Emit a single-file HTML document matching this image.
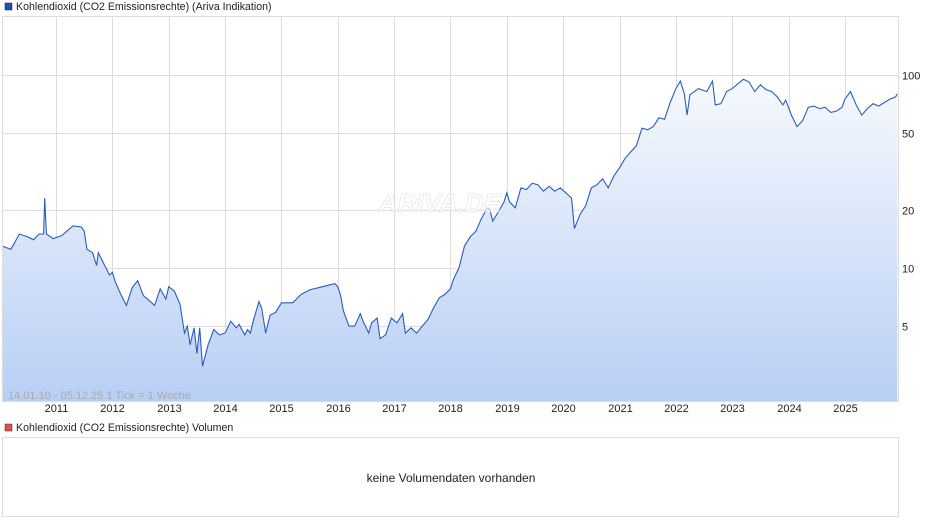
<!DOCTYPE html>
<html><head><meta charset="utf-8"><style>
body{margin:0;background:#fff;font-family:"Liberation Sans",sans-serif;}
svg text{font-family:"Liberation Sans",sans-serif;}
</style></head><body>
<svg id="c" width="940" height="526">
<defs><linearGradient id="g" x1="0" y1="0" x2="0" y2="1"><stop offset="0" stop-color="#f6f9fe"/><stop offset="0.2" stop-color="#eaf1fc"/><stop offset="1" stop-color="#b8cff5"/></linearGradient></defs>
<rect x="5" y="3" width="7" height="7" fill="#1f4fb5" stroke="#123" stroke-width="0.5"/>
<text x="16" y="10" font-size="10.6" fill="#222">Kohlendioxid (CO2 Emissionsrechte) (Ariva Indikation)</text>
<g id="grid"></g>
<path id="area" fill="url(#g)"/>
<path id="line" fill="none" stroke="#2a5cc0" stroke-width="1.1"/>
<rect x="2.5" y="16.5" width="896" height="385" fill="none" stroke="#ddd"/>
<text x="440" y="212" font-size="26" font-style="italic" font-weight="bold" fill="#fff" stroke="#ddd" stroke-width="0.8" opacity="0.7" text-anchor="middle">ARIVA.DE</text>
<text x="8" y="399" font-size="11" fill="#aaa">14.01.10 - 05.12.25   1 Tick = 1 Woche</text>
<g id="ax"></g>
<rect x="5" y="424" width="7" height="7" fill="#d9534f" stroke="#522" stroke-width="0.5"/>
<text x="16" y="431" font-size="10.6" fill="#222">Kohlendioxid (CO2 Emissionsrechte) Volumen</text>
<rect x="2.5" y="437.5" width="896" height="79" fill="#fff" stroke="#ddd"/>
<text x="451" y="482" font-size="12" fill="#222" text-anchor="middle">keine Volumendaten vorhanden</text>
</svg>
<script>
const years=[2011,2012,2013,2014,2015,2016,2017,2018,2019,2020,2021,2022,2023,2024,2025];
const yTicks=[5,10,20,50,100];
const dates=[2010.04,2010.2,2010.35,2010.5,2010.6,2010.7,2010.78,2010.8,2010.83,2010.95,2011.1,2011.3,2011.45,2011.5,2011.55,2011.65,2011.72,2011.75,2011.85,2011.95,2012.0,2012.05,2012.15,2012.25,2012.35,2012.45,2012.55,2012.65,2012.75,2012.85,2012.95,2013.0,2013.1,2013.2,2013.28,2013.33,2013.38,2013.45,2013.5,2013.55,2013.6,2013.7,2013.8,2013.9,2014.0,2014.1,2014.2,2014.25,2014.35,2014.4,2014.45,2014.5,2014.6,2014.65,2014.72,2014.8,2014.9,2015.0,2015.2,2015.35,2015.5,2015.65,2015.8,2015.95,2016.0,2016.05,2016.1,2016.2,2016.3,2016.4,2016.45,2016.55,2016.6,2016.7,2016.75,2016.85,2016.95,2017.05,2017.15,2017.2,2017.3,2017.4,2017.5,2017.6,2017.7,2017.8,2017.9,2018.0,2018.05,2018.15,2018.25,2018.35,2018.45,2018.55,2018.65,2018.7,2018.75,2018.85,2018.95,2019.0,2019.05,2019.15,2019.25,2019.35,2019.45,2019.55,2019.65,2019.75,2019.85,2019.95,2020.05,2020.15,2020.2,2020.3,2020.4,2020.5,2020.6,2020.7,2020.8,2020.9,2021.0,2021.1,2021.2,2021.3,2021.4,2021.5,2021.6,2021.7,2021.8,2021.9,2022.0,2022.08,2022.15,2022.2,2022.25,2022.4,2022.55,2022.65,2022.7,2022.8,2022.9,2023.0,2023.1,2023.2,2023.3,2023.4,2023.5,2023.6,2023.7,2023.8,2023.9,2023.95,2024.05,2024.15,2024.25,2024.35,2024.45,2024.55,2024.65,2024.75,2024.85,2024.95,2025.0,2025.1,2025.2,2025.3,2025.4,2025.5,2025.6,2025.7,2025.8,2025.9,2025.93];
const prices=[13,12.5,15,14.5,14,15,15,23,15,14.2,14.7,16.5,16.3,15.5,12.5,12,10.3,12,10.5,9.2,9.5,8.5,7.3,6.4,7.9,8.6,7.2,6.8,6.4,7.8,6.9,8.0,7.6,6.5,4.6,5.0,4.0,4.9,3.6,4.9,3.1,4.0,4.8,4.5,4.6,5.3,4.9,5.1,4.5,4.8,4.6,5.3,6.7,6.2,4.6,5.7,5.9,6.6,6.6,7.3,7.7,7.9,8.1,8.3,8.0,7.2,6.0,5.0,5.0,5.8,5.3,4.6,5.2,5.5,4.3,4.5,5.5,5.2,5.8,4.6,4.9,4.6,5.0,5.4,6.2,7.0,7.3,7.8,8.7,10.0,13,14.5,15.5,18,20.5,20,17.5,19.5,22,24.5,22.0,20.5,26,25.5,27.5,27,25,26.5,25,26,24.5,23,16,19,21,26,27,29,26,30,33,37,40,43,53,52,54,60,59,72,85,93,80,62,79,85,82,93,70,71,82,85,90,95,92,82,89,84,82,77,70,74,62,54,58,68,69,67,68,64,65,68,75,82,70,62,67,71,69,72,75,77,80];
const X=t=>56+(t-2011)*56.35;
const Y=v=>268-193*(Math.log10(v)-1);
const NS="http://www.w3.org/2000/svg";
const grid=document.getElementById('grid'),ax=document.getElementById('ax');
function mk(tag,at,parent){const e=document.createElementNS(NS,tag);for(const k in at)e.setAttribute(k,at[k]);parent.appendChild(e);return e;}
years.forEach(yr=>{const x=Math.round(X(yr))+0.5;
const l=mk('line',{x1:x,x2:x,y1:17,y2:401,stroke:'#ddd'},grid);


const t=mk('text',{x:x,y:412,'font-size':11,fill:'#222','text-anchor':'middle'},ax);t.textContent=yr;

});
yTicks.forEach(v=>{const y=Math.round(Y(v))+0.5;
const l=mk('line',{x1:3,x2:898,y1:y,y2:y,stroke:'#ddd'},grid);


const t=mk('text',{x:902,y:y+4,'font-size':11,fill:'#222'},ax);t.textContent=v;

});
let d='';dates.forEach((t,i)=>{d+=(i?'L':'M')+X(t).toFixed(1)+','+Y(prices[i]).toFixed(1);});
document.getElementById('line').setAttribute('d',d);
document.getElementById('area').setAttribute('d',d+'L'+X(dates[dates.length-1]).toFixed(1)+',401L'+X(dates[0]).toFixed(1)+',401Z');
</script>
</body></html>
